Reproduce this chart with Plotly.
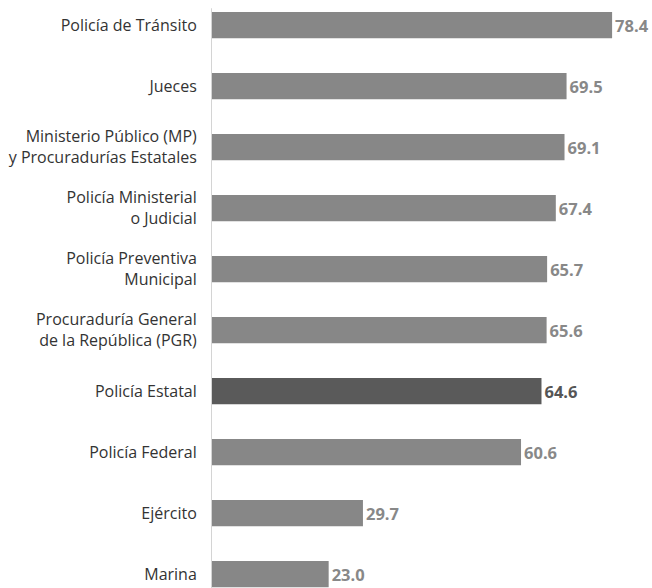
import plotly.graph_objects as go

categories = [
    "Policía de Tránsito",
    "Jueces",
    "Ministerio Público (MP)<br>y Procuradurías Estatales",
    "Policía Ministerial<br>o Judicial",
    "Policía Preventiva<br>Municipal",
    "Procuraduría General<br>de la República (PGR)",
    "Policía Estatal",
    "Policía Federal",
    "Ejército",
    "Marina",
]
values = [78.4, 69.5, 69.1, 67.4, 65.7, 65.6, 64.6, 60.6, 29.7, 23.0]
value_labels = ["78.4", "69.5", "69.1", "67.4", "65.7", "65.6", "64.6", "60.6", "29.7", "23.0"]
highlight = "Policía Estatal"

GRAY = "#878787"
DARK = "#5a5a5a"
bar_colors = [DARK if c == highlight else GRAY for c in categories]
text_colors = ["#555555" if c == highlight else "#888888" for c in categories]

fig = go.Figure(
    go.Bar(
        x=values,
        y=categories,
        orientation="h",
        marker=dict(color=bar_colors, line=dict(width=0)),
        width=0.43,
        text=value_labels,
        textposition="outside",
        constraintext="none",
        textfont=dict(family="Open Sans", size=16.5, color=text_colors, weight="bold"),
        cliponaxis=False,
        hoverinfo="skip",
    )
)

fig.update_layout(
    width=652,
    height=588,
    margin=dict(l=211, r=0, t=0, b=0, autoexpand=False),
    paper_bgcolor="white",
    plot_bgcolor="white",
    showlegend=False,
    xaxis=dict(
        range=[0, 86.2],
        visible=False,
        showgrid=False,
        zeroline=False,
        automargin=False,
    ),
    yaxis=dict(
        type="category",
        categoryorder="array",
        categoryarray=categories,
        range=[9.229, -0.41],
        automargin=False,
        showgrid=False,
        zeroline=False,
        showline=False,
        ticks="outside",
        ticklen=10,
        tickcolor="rgba(0,0,0,0)",
        tickfont=dict(family="Open Sans", size=16, color="#333333"),
    ),
    shapes=[
        dict(
            type="line",
            xref="x",
            yref="paper",
            x0=0,
            x1=0,
            y0=0,
            y1=0.986,
            line=dict(color="#d4d4d4", width=2),
            layer="above",
        )
    ],
)

fig.write_html(
    "out.html",
    config={"displayModeBar": False, "staticPlot": True},
    post_script="document.body.style.margin='0';document.body.style.overflow='hidden';",
)
